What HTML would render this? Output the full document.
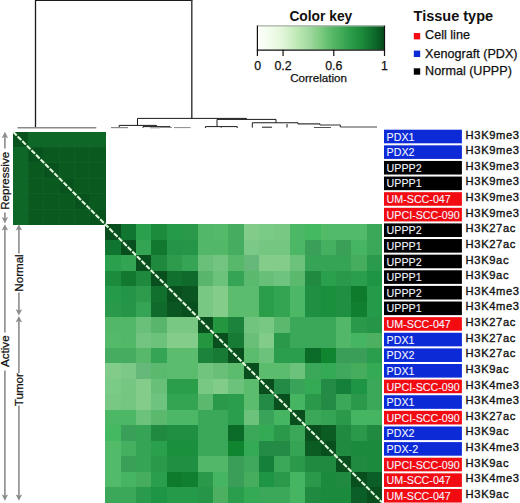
<!DOCTYPE html>
<html><head><meta charset="utf-8"><title>Heatmap</title>
<style>
html,body{margin:0;padding:0;background:#fff;}
body{width:520px;height:503px;overflow:hidden;}
svg{display:block;}
text{font-family:"Liberation Sans",sans-serif;}
.bl{font-size:10.7px;fill:#f4f6ff;stroke:#f4f6ff;stroke-width:0.1px;}
.hk{font-size:11.2px;letter-spacing:0.62px;fill:#111;stroke:#111;stroke-width:0.35px;}
.side{font-size:11.6px;fill:#111;stroke:#111;stroke-width:0.25px;}
.tk{font-size:12.4px;fill:#111;stroke:#111;stroke-width:0.25px;}
.ttl{font-size:13.8px;font-weight:bold;fill:#111;}
.lg{font-size:12.6px;fill:#111;stroke:#111;stroke-width:0.25px;}
</style></head>
<body>
<svg width="520" height="503" viewBox="0 0 520 503">
<rect width="520" height="503" fill="#fff"/>
<g shape-rendering="crispEdges">
<rect x="13.10" y="131.80" width="15.72" height="15.79" fill="#08521d"/>
<rect x="28.47" y="131.80" width="15.72" height="15.79" fill="#0e6627"/>
<rect x="43.84" y="131.80" width="15.72" height="15.79" fill="#0e6627"/>
<rect x="59.21" y="131.80" width="15.72" height="15.79" fill="#0e6627"/>
<rect x="74.58" y="131.80" width="15.72" height="15.79" fill="#0e6627"/>
<rect x="89.95" y="131.80" width="15.72" height="15.79" fill="#0e6627"/>
<rect x="13.10" y="147.24" width="15.72" height="15.79" fill="#0e6627"/>
<rect x="28.47" y="147.24" width="15.72" height="15.79" fill="#08521d"/>
<rect x="43.84" y="147.24" width="15.72" height="15.79" fill="#0a5a20"/>
<rect x="59.21" y="147.24" width="15.72" height="15.79" fill="#0a5a20"/>
<rect x="74.58" y="147.24" width="15.72" height="15.79" fill="#0a5a20"/>
<rect x="89.95" y="147.24" width="15.72" height="15.79" fill="#0a5a20"/>
<rect x="13.10" y="162.68" width="15.72" height="15.79" fill="#0e6627"/>
<rect x="28.47" y="162.68" width="15.72" height="15.79" fill="#0a5a20"/>
<rect x="43.84" y="162.68" width="15.72" height="15.79" fill="#08521d"/>
<rect x="59.21" y="162.68" width="15.72" height="15.79" fill="#0a5a20"/>
<rect x="74.58" y="162.68" width="15.72" height="15.79" fill="#0a5a20"/>
<rect x="89.95" y="162.68" width="15.72" height="15.79" fill="#0a5a20"/>
<rect x="13.10" y="178.12" width="15.72" height="15.79" fill="#0e6627"/>
<rect x="28.47" y="178.12" width="15.72" height="15.79" fill="#0a5a20"/>
<rect x="43.84" y="178.12" width="15.72" height="15.79" fill="#0a5a20"/>
<rect x="59.21" y="178.12" width="15.72" height="15.79" fill="#08521d"/>
<rect x="74.58" y="178.12" width="15.72" height="15.79" fill="#0a5a20"/>
<rect x="89.95" y="178.12" width="15.72" height="15.79" fill="#0a5a20"/>
<rect x="13.10" y="193.57" width="15.72" height="15.79" fill="#0e6627"/>
<rect x="28.47" y="193.57" width="15.72" height="15.79" fill="#0a5a20"/>
<rect x="43.84" y="193.57" width="15.72" height="15.79" fill="#0a5a20"/>
<rect x="59.21" y="193.57" width="15.72" height="15.79" fill="#0a5a20"/>
<rect x="74.58" y="193.57" width="15.72" height="15.79" fill="#08521d"/>
<rect x="89.95" y="193.57" width="15.72" height="15.79" fill="#0a5a20"/>
<rect x="13.10" y="209.01" width="15.72" height="15.79" fill="#0e6627"/>
<rect x="28.47" y="209.01" width="15.72" height="15.79" fill="#0a5a20"/>
<rect x="43.84" y="209.01" width="15.72" height="15.79" fill="#0a5a20"/>
<rect x="59.21" y="209.01" width="15.72" height="15.79" fill="#0a5a20"/>
<rect x="74.58" y="209.01" width="15.72" height="15.79" fill="#0a5a20"/>
<rect x="89.95" y="209.01" width="15.72" height="15.79" fill="#08521d"/>
<rect x="105.32" y="224.45" width="15.72" height="15.79" fill="#094e1d"/>
<rect x="120.70" y="224.45" width="15.72" height="15.79" fill="#0f7530"/>
<rect x="136.07" y="224.45" width="15.72" height="15.79" fill="#2aa04c"/>
<rect x="151.44" y="224.45" width="15.72" height="15.79" fill="#1c8b3c"/>
<rect x="166.81" y="224.45" width="15.72" height="15.79" fill="#259a48"/>
<rect x="182.18" y="224.45" width="15.72" height="15.79" fill="#2a9a4a"/>
<rect x="197.55" y="224.45" width="15.72" height="15.79" fill="#52b868"/>
<rect x="212.92" y="224.45" width="15.72" height="15.79" fill="#55b96a"/>
<rect x="228.29" y="224.45" width="15.72" height="15.79" fill="#46ac5f"/>
<rect x="243.66" y="224.45" width="15.72" height="15.79" fill="#80cc88"/>
<rect x="259.03" y="224.45" width="15.72" height="15.79" fill="#7acb85"/>
<rect x="274.40" y="224.45" width="15.72" height="15.79" fill="#78c883"/>
<rect x="289.77" y="224.45" width="15.72" height="15.79" fill="#4cb865"/>
<rect x="305.15" y="224.45" width="15.72" height="15.79" fill="#45b862"/>
<rect x="320.52" y="224.45" width="15.72" height="15.79" fill="#52bb6a"/>
<rect x="335.89" y="224.45" width="15.72" height="15.79" fill="#52bb6a"/>
<rect x="351.26" y="224.45" width="15.72" height="15.79" fill="#52bb6a"/>
<rect x="366.63" y="224.45" width="15.72" height="15.79" fill="#3aa858"/>
<rect x="105.32" y="239.89" width="15.72" height="15.79" fill="#0f7530"/>
<rect x="120.70" y="239.89" width="15.72" height="15.79" fill="#094e1d"/>
<rect x="136.07" y="239.89" width="15.72" height="15.79" fill="#33a552"/>
<rect x="151.44" y="239.89" width="15.72" height="15.79" fill="#12782f"/>
<rect x="166.81" y="239.89" width="15.72" height="15.79" fill="#249548"/>
<rect x="182.18" y="239.89" width="15.72" height="15.79" fill="#259648"/>
<rect x="197.55" y="239.89" width="15.72" height="15.79" fill="#52b868"/>
<rect x="212.92" y="239.89" width="15.72" height="15.79" fill="#52b868"/>
<rect x="228.29" y="239.89" width="15.72" height="15.79" fill="#46ac5f"/>
<rect x="243.66" y="239.89" width="15.72" height="15.79" fill="#7cc887"/>
<rect x="259.03" y="239.89" width="15.72" height="15.79" fill="#74c680"/>
<rect x="274.40" y="239.89" width="15.72" height="15.79" fill="#74c680"/>
<rect x="289.77" y="239.89" width="15.72" height="15.79" fill="#4cb865"/>
<rect x="305.15" y="239.89" width="15.72" height="15.79" fill="#3a9f58"/>
<rect x="320.52" y="239.89" width="15.72" height="15.79" fill="#45b060"/>
<rect x="335.89" y="239.89" width="15.72" height="15.79" fill="#3aa058"/>
<rect x="351.26" y="239.89" width="15.72" height="15.79" fill="#45b562"/>
<rect x="366.63" y="239.89" width="15.72" height="15.79" fill="#3aa858"/>
<rect x="105.32" y="255.33" width="15.72" height="15.79" fill="#2aa04c"/>
<rect x="120.70" y="255.33" width="15.72" height="15.79" fill="#33a552"/>
<rect x="136.07" y="255.33" width="15.72" height="15.79" fill="#094e1d"/>
<rect x="151.44" y="255.33" width="15.72" height="15.79" fill="#1f8a3d"/>
<rect x="166.81" y="255.33" width="15.72" height="15.79" fill="#2d9a4c"/>
<rect x="182.18" y="255.33" width="15.72" height="15.79" fill="#35a555"/>
<rect x="197.55" y="255.33" width="15.72" height="15.79" fill="#6ac078"/>
<rect x="212.92" y="255.33" width="15.72" height="15.79" fill="#72c480"/>
<rect x="228.29" y="255.33" width="15.72" height="15.79" fill="#56b868"/>
<rect x="243.66" y="255.33" width="15.72" height="15.79" fill="#66b87a"/>
<rect x="259.03" y="255.33" width="15.72" height="15.79" fill="#84cc8a"/>
<rect x="274.40" y="255.33" width="15.72" height="15.79" fill="#84cc8a"/>
<rect x="289.77" y="255.33" width="15.72" height="15.79" fill="#6cc27a"/>
<rect x="305.15" y="255.33" width="15.72" height="15.79" fill="#35a555"/>
<rect x="320.52" y="255.33" width="15.72" height="15.79" fill="#35a555"/>
<rect x="335.89" y="255.33" width="15.72" height="15.79" fill="#35a555"/>
<rect x="351.26" y="255.33" width="15.72" height="15.79" fill="#45ad5c"/>
<rect x="366.63" y="255.33" width="15.72" height="15.79" fill="#2a9a4c"/>
<rect x="105.32" y="270.77" width="15.72" height="15.79" fill="#1c8b3c"/>
<rect x="120.70" y="270.77" width="15.72" height="15.79" fill="#12782f"/>
<rect x="136.07" y="270.77" width="15.72" height="15.79" fill="#1f8a3d"/>
<rect x="151.44" y="270.77" width="15.72" height="15.79" fill="#094e1d"/>
<rect x="166.81" y="270.77" width="15.72" height="15.79" fill="#11702d"/>
<rect x="182.18" y="270.77" width="15.72" height="15.79" fill="#0f6a2b"/>
<rect x="197.55" y="270.77" width="15.72" height="15.79" fill="#5ab56c"/>
<rect x="212.92" y="270.77" width="15.72" height="15.79" fill="#6cc27a"/>
<rect x="228.29" y="270.77" width="15.72" height="15.79" fill="#35a555"/>
<rect x="243.66" y="270.77" width="15.72" height="15.79" fill="#5ab96c"/>
<rect x="259.03" y="270.77" width="15.72" height="15.79" fill="#68bf78"/>
<rect x="274.40" y="270.77" width="15.72" height="15.79" fill="#6ec47e"/>
<rect x="289.77" y="270.77" width="15.72" height="15.79" fill="#5ab96c"/>
<rect x="305.15" y="270.77" width="15.72" height="15.79" fill="#1f8a40"/>
<rect x="320.52" y="270.77" width="15.72" height="15.79" fill="#2aa04c"/>
<rect x="335.89" y="270.77" width="15.72" height="15.79" fill="#2a9a4a"/>
<rect x="351.26" y="270.77" width="15.72" height="15.79" fill="#2a9e4c"/>
<rect x="366.63" y="270.77" width="15.72" height="15.79" fill="#1e9445"/>
<rect x="105.32" y="286.22" width="15.72" height="15.79" fill="#259a48"/>
<rect x="120.70" y="286.22" width="15.72" height="15.79" fill="#249548"/>
<rect x="136.07" y="286.22" width="15.72" height="15.79" fill="#2d9a4c"/>
<rect x="151.44" y="286.22" width="15.72" height="15.79" fill="#11702d"/>
<rect x="166.81" y="286.22" width="15.72" height="15.79" fill="#094e1d"/>
<rect x="182.18" y="286.22" width="15.72" height="15.79" fill="#0b5520"/>
<rect x="197.55" y="286.22" width="15.72" height="15.79" fill="#78c883"/>
<rect x="212.92" y="286.22" width="15.72" height="15.79" fill="#84cc8a"/>
<rect x="228.29" y="286.22" width="15.72" height="15.79" fill="#5cbc6e"/>
<rect x="243.66" y="286.22" width="15.72" height="15.79" fill="#5cbc6e"/>
<rect x="259.03" y="286.22" width="15.72" height="15.79" fill="#2a9e48"/>
<rect x="274.40" y="286.22" width="15.72" height="15.79" fill="#33a552"/>
<rect x="289.77" y="286.22" width="15.72" height="15.79" fill="#4cb865"/>
<rect x="305.15" y="286.22" width="15.72" height="15.79" fill="#1f9042"/>
<rect x="320.52" y="286.22" width="15.72" height="15.79" fill="#1a8f3c"/>
<rect x="335.89" y="286.22" width="15.72" height="15.79" fill="#1f9042"/>
<rect x="351.26" y="286.22" width="15.72" height="15.79" fill="#0e7a2c"/>
<rect x="366.63" y="286.22" width="15.72" height="15.79" fill="#259a48"/>
<rect x="105.32" y="301.66" width="15.72" height="15.79" fill="#2a9a4a"/>
<rect x="120.70" y="301.66" width="15.72" height="15.79" fill="#259648"/>
<rect x="136.07" y="301.66" width="15.72" height="15.79" fill="#35a555"/>
<rect x="151.44" y="301.66" width="15.72" height="15.79" fill="#0f6a2b"/>
<rect x="166.81" y="301.66" width="15.72" height="15.79" fill="#0b5520"/>
<rect x="182.18" y="301.66" width="15.72" height="15.79" fill="#094e1d"/>
<rect x="197.55" y="301.66" width="15.72" height="15.79" fill="#78c883"/>
<rect x="212.92" y="301.66" width="15.72" height="15.79" fill="#84cc8a"/>
<rect x="228.29" y="301.66" width="15.72" height="15.79" fill="#5cbc6e"/>
<rect x="243.66" y="301.66" width="15.72" height="15.79" fill="#5cbc6e"/>
<rect x="259.03" y="301.66" width="15.72" height="15.79" fill="#2a9e48"/>
<rect x="274.40" y="301.66" width="15.72" height="15.79" fill="#33a552"/>
<rect x="289.77" y="301.66" width="15.72" height="15.79" fill="#4cb865"/>
<rect x="305.15" y="301.66" width="15.72" height="15.79" fill="#1f9042"/>
<rect x="320.52" y="301.66" width="15.72" height="15.79" fill="#1a8f3c"/>
<rect x="335.89" y="301.66" width="15.72" height="15.79" fill="#1f9042"/>
<rect x="351.26" y="301.66" width="15.72" height="15.79" fill="#117f30"/>
<rect x="366.63" y="301.66" width="15.72" height="15.79" fill="#259a48"/>
<rect x="105.32" y="317.10" width="15.72" height="15.79" fill="#52b868"/>
<rect x="120.70" y="317.10" width="15.72" height="15.79" fill="#52b868"/>
<rect x="136.07" y="317.10" width="15.72" height="15.79" fill="#6ac078"/>
<rect x="151.44" y="317.10" width="15.72" height="15.79" fill="#5ab56c"/>
<rect x="166.81" y="317.10" width="15.72" height="15.79" fill="#78c883"/>
<rect x="182.18" y="317.10" width="15.72" height="15.79" fill="#78c883"/>
<rect x="197.55" y="317.10" width="15.72" height="15.79" fill="#094e1d"/>
<rect x="212.92" y="317.10" width="15.72" height="15.79" fill="#23963f"/>
<rect x="228.29" y="317.10" width="15.72" height="15.79" fill="#1b833b"/>
<rect x="243.66" y="317.10" width="15.72" height="15.79" fill="#70c47e"/>
<rect x="259.03" y="317.10" width="15.72" height="15.79" fill="#78c883"/>
<rect x="274.40" y="317.10" width="15.72" height="15.79" fill="#5ab96c"/>
<rect x="289.77" y="317.10" width="15.72" height="15.79" fill="#3aa858"/>
<rect x="305.15" y="317.10" width="15.72" height="15.79" fill="#3aa858"/>
<rect x="320.52" y="317.10" width="15.72" height="15.79" fill="#3aa858"/>
<rect x="335.89" y="317.10" width="15.72" height="15.79" fill="#52b868"/>
<rect x="351.26" y="317.10" width="15.72" height="15.79" fill="#2a9a4a"/>
<rect x="366.63" y="317.10" width="15.72" height="15.79" fill="#259648"/>
<rect x="105.32" y="332.54" width="15.72" height="15.79" fill="#55b96a"/>
<rect x="120.70" y="332.54" width="15.72" height="15.79" fill="#52b868"/>
<rect x="136.07" y="332.54" width="15.72" height="15.79" fill="#72c480"/>
<rect x="151.44" y="332.54" width="15.72" height="15.79" fill="#6cc27a"/>
<rect x="166.81" y="332.54" width="15.72" height="15.79" fill="#84cc8a"/>
<rect x="182.18" y="332.54" width="15.72" height="15.79" fill="#84cc8a"/>
<rect x="197.55" y="332.54" width="15.72" height="15.79" fill="#23963f"/>
<rect x="212.92" y="332.54" width="15.72" height="15.79" fill="#094e1d"/>
<rect x="228.29" y="332.54" width="15.72" height="15.79" fill="#177a35"/>
<rect x="243.66" y="332.54" width="15.72" height="15.79" fill="#6abf78"/>
<rect x="259.03" y="332.54" width="15.72" height="15.79" fill="#80cc88"/>
<rect x="274.40" y="332.54" width="15.72" height="15.79" fill="#2a9a4a"/>
<rect x="289.77" y="332.54" width="15.72" height="15.79" fill="#3aa858"/>
<rect x="305.15" y="332.54" width="15.72" height="15.79" fill="#3aa858"/>
<rect x="320.52" y="332.54" width="15.72" height="15.79" fill="#3aa858"/>
<rect x="335.89" y="332.54" width="15.72" height="15.79" fill="#52b868"/>
<rect x="351.26" y="332.54" width="15.72" height="15.79" fill="#45b562"/>
<rect x="366.63" y="332.54" width="15.72" height="15.79" fill="#4cb060"/>
<rect x="105.32" y="347.98" width="15.72" height="15.79" fill="#46ac5f"/>
<rect x="120.70" y="347.98" width="15.72" height="15.79" fill="#46ac5f"/>
<rect x="136.07" y="347.98" width="15.72" height="15.79" fill="#56b868"/>
<rect x="151.44" y="347.98" width="15.72" height="15.79" fill="#35a555"/>
<rect x="166.81" y="347.98" width="15.72" height="15.79" fill="#5cbc6e"/>
<rect x="182.18" y="347.98" width="15.72" height="15.79" fill="#5cbc6e"/>
<rect x="197.55" y="347.98" width="15.72" height="15.79" fill="#1b833b"/>
<rect x="212.92" y="347.98" width="15.72" height="15.79" fill="#177a35"/>
<rect x="228.29" y="347.98" width="15.72" height="15.79" fill="#094e1d"/>
<rect x="243.66" y="347.98" width="15.72" height="15.79" fill="#5cbc6e"/>
<rect x="259.03" y="347.98" width="15.72" height="15.79" fill="#6cc27a"/>
<rect x="274.40" y="347.98" width="15.72" height="15.79" fill="#2a9e4c"/>
<rect x="289.77" y="347.98" width="15.72" height="15.79" fill="#2a9e4c"/>
<rect x="305.15" y="347.98" width="15.72" height="15.79" fill="#0b6c29"/>
<rect x="320.52" y="347.98" width="15.72" height="15.79" fill="#108530"/>
<rect x="335.89" y="347.98" width="15.72" height="15.79" fill="#3a9e58"/>
<rect x="351.26" y="347.98" width="15.72" height="15.79" fill="#3a9e58"/>
<rect x="366.63" y="347.98" width="15.72" height="15.79" fill="#2a9e4c"/>
<rect x="105.32" y="363.42" width="15.72" height="15.79" fill="#80cc88"/>
<rect x="120.70" y="363.42" width="15.72" height="15.79" fill="#7cc887"/>
<rect x="136.07" y="363.42" width="15.72" height="15.79" fill="#66b87a"/>
<rect x="151.44" y="363.42" width="15.72" height="15.79" fill="#5ab96c"/>
<rect x="166.81" y="363.42" width="15.72" height="15.79" fill="#5cbc6e"/>
<rect x="182.18" y="363.42" width="15.72" height="15.79" fill="#5cbc6e"/>
<rect x="197.55" y="363.42" width="15.72" height="15.79" fill="#70c47e"/>
<rect x="212.92" y="363.42" width="15.72" height="15.79" fill="#6abf78"/>
<rect x="228.29" y="363.42" width="15.72" height="15.79" fill="#5cbc6e"/>
<rect x="243.66" y="363.42" width="15.72" height="15.79" fill="#094e1d"/>
<rect x="259.03" y="363.42" width="15.72" height="15.79" fill="#5cbc6e"/>
<rect x="274.40" y="363.42" width="15.72" height="15.79" fill="#5cbc6e"/>
<rect x="289.77" y="363.42" width="15.72" height="15.79" fill="#6cc27a"/>
<rect x="305.15" y="363.42" width="15.72" height="15.79" fill="#3aa858"/>
<rect x="320.52" y="363.42" width="15.72" height="15.79" fill="#35aa55"/>
<rect x="335.89" y="363.42" width="15.72" height="15.79" fill="#40a85c"/>
<rect x="351.26" y="363.42" width="15.72" height="15.79" fill="#45ad5c"/>
<rect x="366.63" y="363.42" width="15.72" height="15.79" fill="#35aa55"/>
<rect x="105.32" y="378.87" width="15.72" height="15.79" fill="#7acb85"/>
<rect x="120.70" y="378.87" width="15.72" height="15.79" fill="#74c680"/>
<rect x="136.07" y="378.87" width="15.72" height="15.79" fill="#84cc8a"/>
<rect x="151.44" y="378.87" width="15.72" height="15.79" fill="#68bf78"/>
<rect x="166.81" y="378.87" width="15.72" height="15.79" fill="#2a9e48"/>
<rect x="182.18" y="378.87" width="15.72" height="15.79" fill="#2a9e48"/>
<rect x="197.55" y="378.87" width="15.72" height="15.79" fill="#78c883"/>
<rect x="212.92" y="378.87" width="15.72" height="15.79" fill="#80cc88"/>
<rect x="228.29" y="378.87" width="15.72" height="15.79" fill="#6cc27a"/>
<rect x="243.66" y="378.87" width="15.72" height="15.79" fill="#5cbc6e"/>
<rect x="259.03" y="378.87" width="15.72" height="15.79" fill="#094e1d"/>
<rect x="274.40" y="378.87" width="15.72" height="15.79" fill="#238b45"/>
<rect x="289.77" y="378.87" width="15.72" height="15.79" fill="#3aa35a"/>
<rect x="305.15" y="378.87" width="15.72" height="15.79" fill="#35aa55"/>
<rect x="320.52" y="378.87" width="15.72" height="15.79" fill="#238b45"/>
<rect x="335.89" y="378.87" width="15.72" height="15.79" fill="#14803a"/>
<rect x="351.26" y="378.87" width="15.72" height="15.79" fill="#1e9445"/>
<rect x="366.63" y="378.87" width="15.72" height="15.79" fill="#3aa858"/>
<rect x="105.32" y="394.31" width="15.72" height="15.79" fill="#78c883"/>
<rect x="120.70" y="394.31" width="15.72" height="15.79" fill="#74c680"/>
<rect x="136.07" y="394.31" width="15.72" height="15.79" fill="#84cc8a"/>
<rect x="151.44" y="394.31" width="15.72" height="15.79" fill="#6ec47e"/>
<rect x="166.81" y="394.31" width="15.72" height="15.79" fill="#33a552"/>
<rect x="182.18" y="394.31" width="15.72" height="15.79" fill="#33a552"/>
<rect x="197.55" y="394.31" width="15.72" height="15.79" fill="#5ab96c"/>
<rect x="212.92" y="394.31" width="15.72" height="15.79" fill="#2a9a4a"/>
<rect x="228.29" y="394.31" width="15.72" height="15.79" fill="#2a9e4c"/>
<rect x="243.66" y="394.31" width="15.72" height="15.79" fill="#5cbc6e"/>
<rect x="259.03" y="394.31" width="15.72" height="15.79" fill="#238b45"/>
<rect x="274.40" y="394.31" width="15.72" height="15.79" fill="#094e1d"/>
<rect x="289.77" y="394.31" width="15.72" height="15.79" fill="#45b562"/>
<rect x="305.15" y="394.31" width="15.72" height="15.79" fill="#2a9a4a"/>
<rect x="320.52" y="394.31" width="15.72" height="15.79" fill="#238b45"/>
<rect x="335.89" y="394.31" width="15.72" height="15.79" fill="#3aa858"/>
<rect x="351.26" y="394.31" width="15.72" height="15.79" fill="#2a9a4a"/>
<rect x="366.63" y="394.31" width="15.72" height="15.79" fill="#3aa858"/>
<rect x="105.32" y="409.75" width="15.72" height="15.79" fill="#4cb865"/>
<rect x="120.70" y="409.75" width="15.72" height="15.79" fill="#4cb865"/>
<rect x="136.07" y="409.75" width="15.72" height="15.79" fill="#6cc27a"/>
<rect x="151.44" y="409.75" width="15.72" height="15.79" fill="#5ab96c"/>
<rect x="166.81" y="409.75" width="15.72" height="15.79" fill="#4cb865"/>
<rect x="182.18" y="409.75" width="15.72" height="15.79" fill="#4cb865"/>
<rect x="197.55" y="409.75" width="15.72" height="15.79" fill="#3aa858"/>
<rect x="212.92" y="409.75" width="15.72" height="15.79" fill="#3aa858"/>
<rect x="228.29" y="409.75" width="15.72" height="15.79" fill="#2a9e4c"/>
<rect x="243.66" y="409.75" width="15.72" height="15.79" fill="#6cc27a"/>
<rect x="259.03" y="409.75" width="15.72" height="15.79" fill="#3aa35a"/>
<rect x="274.40" y="409.75" width="15.72" height="15.79" fill="#45b562"/>
<rect x="289.77" y="409.75" width="15.72" height="15.79" fill="#094e1d"/>
<rect x="305.15" y="409.75" width="15.72" height="15.79" fill="#3aa858"/>
<rect x="320.52" y="409.75" width="15.72" height="15.79" fill="#35a555"/>
<rect x="335.89" y="409.75" width="15.72" height="15.79" fill="#2a9a4a"/>
<rect x="351.26" y="409.75" width="15.72" height="15.79" fill="#45b562"/>
<rect x="366.63" y="409.75" width="15.72" height="15.79" fill="#45b562"/>
<rect x="105.32" y="425.19" width="15.72" height="15.79" fill="#45b862"/>
<rect x="120.70" y="425.19" width="15.72" height="15.79" fill="#3a9f58"/>
<rect x="136.07" y="425.19" width="15.72" height="15.79" fill="#35a555"/>
<rect x="151.44" y="425.19" width="15.72" height="15.79" fill="#1f8a40"/>
<rect x="166.81" y="425.19" width="15.72" height="15.79" fill="#1f9042"/>
<rect x="182.18" y="425.19" width="15.72" height="15.79" fill="#1f9042"/>
<rect x="197.55" y="425.19" width="15.72" height="15.79" fill="#3aa858"/>
<rect x="212.92" y="425.19" width="15.72" height="15.79" fill="#3aa858"/>
<rect x="228.29" y="425.19" width="15.72" height="15.79" fill="#0b6c29"/>
<rect x="243.66" y="425.19" width="15.72" height="15.79" fill="#3aa858"/>
<rect x="259.03" y="425.19" width="15.72" height="15.79" fill="#35aa55"/>
<rect x="274.40" y="425.19" width="15.72" height="15.79" fill="#2a9a4a"/>
<rect x="289.77" y="425.19" width="15.72" height="15.79" fill="#3aa858"/>
<rect x="305.15" y="425.19" width="15.72" height="15.79" fill="#094e1d"/>
<rect x="320.52" y="425.19" width="15.72" height="15.79" fill="#0a5c23"/>
<rect x="335.89" y="425.19" width="15.72" height="15.79" fill="#1f8a40"/>
<rect x="351.26" y="425.19" width="15.72" height="15.79" fill="#2a9a4a"/>
<rect x="366.63" y="425.19" width="15.72" height="15.79" fill="#1f8a40"/>
<rect x="105.32" y="440.63" width="15.72" height="15.79" fill="#52bb6a"/>
<rect x="120.70" y="440.63" width="15.72" height="15.79" fill="#45b060"/>
<rect x="136.07" y="440.63" width="15.72" height="15.79" fill="#35a555"/>
<rect x="151.44" y="440.63" width="15.72" height="15.79" fill="#2aa04c"/>
<rect x="166.81" y="440.63" width="15.72" height="15.79" fill="#1a8f3c"/>
<rect x="182.18" y="440.63" width="15.72" height="15.79" fill="#1a8f3c"/>
<rect x="197.55" y="440.63" width="15.72" height="15.79" fill="#3aa858"/>
<rect x="212.92" y="440.63" width="15.72" height="15.79" fill="#3aa858"/>
<rect x="228.29" y="440.63" width="15.72" height="15.79" fill="#108530"/>
<rect x="243.66" y="440.63" width="15.72" height="15.79" fill="#35aa55"/>
<rect x="259.03" y="440.63" width="15.72" height="15.79" fill="#238b45"/>
<rect x="274.40" y="440.63" width="15.72" height="15.79" fill="#238b45"/>
<rect x="289.77" y="440.63" width="15.72" height="15.79" fill="#35a555"/>
<rect x="305.15" y="440.63" width="15.72" height="15.79" fill="#0a5c23"/>
<rect x="320.52" y="440.63" width="15.72" height="15.79" fill="#094e1d"/>
<rect x="335.89" y="440.63" width="15.72" height="15.79" fill="#1f8a40"/>
<rect x="351.26" y="440.63" width="15.72" height="15.79" fill="#1a8a3c"/>
<rect x="366.63" y="440.63" width="15.72" height="15.79" fill="#1a8a3c"/>
<rect x="105.32" y="456.07" width="15.72" height="15.79" fill="#52bb6a"/>
<rect x="120.70" y="456.07" width="15.72" height="15.79" fill="#3aa058"/>
<rect x="136.07" y="456.07" width="15.72" height="15.79" fill="#35a555"/>
<rect x="151.44" y="456.07" width="15.72" height="15.79" fill="#2a9a4a"/>
<rect x="166.81" y="456.07" width="15.72" height="15.79" fill="#1f9042"/>
<rect x="182.18" y="456.07" width="15.72" height="15.79" fill="#1f9042"/>
<rect x="197.55" y="456.07" width="15.72" height="15.79" fill="#52b868"/>
<rect x="212.92" y="456.07" width="15.72" height="15.79" fill="#52b868"/>
<rect x="228.29" y="456.07" width="15.72" height="15.79" fill="#3a9e58"/>
<rect x="243.66" y="456.07" width="15.72" height="15.79" fill="#40a85c"/>
<rect x="259.03" y="456.07" width="15.72" height="15.79" fill="#14803a"/>
<rect x="274.40" y="456.07" width="15.72" height="15.79" fill="#3aa858"/>
<rect x="289.77" y="456.07" width="15.72" height="15.79" fill="#2a9a4a"/>
<rect x="305.15" y="456.07" width="15.72" height="15.79" fill="#1f8a40"/>
<rect x="320.52" y="456.07" width="15.72" height="15.79" fill="#1f8a40"/>
<rect x="335.89" y="456.07" width="15.72" height="15.79" fill="#094e1d"/>
<rect x="351.26" y="456.07" width="15.72" height="15.79" fill="#1f8a40"/>
<rect x="366.63" y="456.07" width="15.72" height="15.79" fill="#1a8a3c"/>
<rect x="105.32" y="471.52" width="15.72" height="15.79" fill="#52bb6a"/>
<rect x="120.70" y="471.52" width="15.72" height="15.79" fill="#45b562"/>
<rect x="136.07" y="471.52" width="15.72" height="15.79" fill="#45ad5c"/>
<rect x="151.44" y="471.52" width="15.72" height="15.79" fill="#2a9e4c"/>
<rect x="166.81" y="471.52" width="15.72" height="15.79" fill="#0e7a2c"/>
<rect x="182.18" y="471.52" width="15.72" height="15.79" fill="#117f30"/>
<rect x="197.55" y="471.52" width="15.72" height="15.79" fill="#2a9a4a"/>
<rect x="212.92" y="471.52" width="15.72" height="15.79" fill="#45b562"/>
<rect x="228.29" y="471.52" width="15.72" height="15.79" fill="#3a9e58"/>
<rect x="243.66" y="471.52" width="15.72" height="15.79" fill="#45ad5c"/>
<rect x="259.03" y="471.52" width="15.72" height="15.79" fill="#1e9445"/>
<rect x="274.40" y="471.52" width="15.72" height="15.79" fill="#2a9a4a"/>
<rect x="289.77" y="471.52" width="15.72" height="15.79" fill="#45b562"/>
<rect x="305.15" y="471.52" width="15.72" height="15.79" fill="#2a9a4a"/>
<rect x="320.52" y="471.52" width="15.72" height="15.79" fill="#1a8a3c"/>
<rect x="335.89" y="471.52" width="15.72" height="15.79" fill="#1f8a40"/>
<rect x="351.26" y="471.52" width="15.72" height="15.79" fill="#094e1d"/>
<rect x="366.63" y="471.52" width="15.72" height="15.79" fill="#0b5e25"/>
<rect x="105.32" y="486.96" width="15.72" height="15.79" fill="#3aa858"/>
<rect x="120.70" y="486.96" width="15.72" height="15.79" fill="#3aa858"/>
<rect x="136.07" y="486.96" width="15.72" height="15.79" fill="#2a9a4c"/>
<rect x="151.44" y="486.96" width="15.72" height="15.79" fill="#1e9445"/>
<rect x="166.81" y="486.96" width="15.72" height="15.79" fill="#259a48"/>
<rect x="182.18" y="486.96" width="15.72" height="15.79" fill="#259a48"/>
<rect x="197.55" y="486.96" width="15.72" height="15.79" fill="#259648"/>
<rect x="212.92" y="486.96" width="15.72" height="15.79" fill="#4cb060"/>
<rect x="228.29" y="486.96" width="15.72" height="15.79" fill="#2a9e4c"/>
<rect x="243.66" y="486.96" width="15.72" height="15.79" fill="#35aa55"/>
<rect x="259.03" y="486.96" width="15.72" height="15.79" fill="#3aa858"/>
<rect x="274.40" y="486.96" width="15.72" height="15.79" fill="#3aa858"/>
<rect x="289.77" y="486.96" width="15.72" height="15.79" fill="#45b562"/>
<rect x="305.15" y="486.96" width="15.72" height="15.79" fill="#1f8a40"/>
<rect x="320.52" y="486.96" width="15.72" height="15.79" fill="#1a8a3c"/>
<rect x="335.89" y="486.96" width="15.72" height="15.79" fill="#1a8a3c"/>
<rect x="351.26" y="486.96" width="15.72" height="15.79" fill="#0b5e25"/>
<rect x="366.63" y="486.96" width="15.72" height="15.79" fill="#094e1d"/>
<rect x="27.97" y="131.80" width="1" height="92.65" fill="#1b6a32" opacity="0.3"/>
<rect x="13.10" y="146.74" width="92.22" height="1" fill="#1b6a32" opacity="0.3"/>
<rect x="43.34" y="131.80" width="1" height="92.65" fill="#1b6a32" opacity="0.3"/>
<rect x="13.10" y="162.18" width="92.22" height="1" fill="#1b6a32" opacity="0.3"/>
<rect x="58.71" y="131.80" width="1" height="92.65" fill="#1b6a32" opacity="0.3"/>
<rect x="13.10" y="177.62" width="92.22" height="1" fill="#1b6a32" opacity="0.3"/>
<rect x="74.08" y="131.80" width="1" height="92.65" fill="#1b6a32" opacity="0.3"/>
<rect x="13.10" y="193.07" width="92.22" height="1" fill="#1b6a32" opacity="0.3"/>
<rect x="89.45" y="131.80" width="1" height="92.65" fill="#1b6a32" opacity="0.3"/>
<rect x="13.10" y="208.51" width="92.22" height="1" fill="#1b6a32" opacity="0.3"/>
</g>
<line x1="13.1" y1="131.8" x2="382.0" y2="502.4" stroke="#e2f9dc" stroke-width="2.1" stroke-dasharray="5.1 1.4"/>
<g>
<line x1="35.5" y1="0.5" x2="192.3" y2="0.5" stroke="#1a1a1a" stroke-width="1.2"/>
<line x1="35.5" y1="0.0" x2="35.5" y2="127.7" stroke="#1a1a1a" stroke-width="1.3"/>
<line x1="191.8" y1="0.0" x2="191.8" y2="118.4" stroke="#333" stroke-width="1.4"/>
<line x1="17.5" y1="127.8" x2="96.3" y2="127.8" stroke="#8a8a8a" stroke-width="1.6"/>
<line x1="137.5" y1="118.4" x2="246.4" y2="118.4" stroke="#1a1a1a" stroke-width="1.0"/>
<line x1="137.5" y1="118.4" x2="137.5" y2="125.4" stroke="#1a1a1a" stroke-width="1.0"/>
<line x1="119.2" y1="125.4" x2="156.5" y2="125.4" stroke="#1a1a1a" stroke-width="1.0"/>
<line x1="119.2" y1="125.4" x2="119.2" y2="127.6" stroke="#1a1a1a" stroke-width="1.0"/>
<line x1="111.0" y1="127.6" x2="128.0" y2="127.6" stroke="#8a8a8a" stroke-width="1.2"/>
<line x1="156.5" y1="125.4" x2="156.5" y2="126.4" stroke="#1a1a1a" stroke-width="1.0"/>
<line x1="143.0" y1="126.6" x2="170.0" y2="126.6" stroke="#1a1a1a" stroke-width="1.0"/>
<line x1="143.0" y1="126.6" x2="143.0" y2="127.8" stroke="#1a1a1a" stroke-width="1.0"/>
<line x1="150.0" y1="127.8" x2="160.0" y2="127.8" stroke="#8a8a8a" stroke-width="1.0"/>
<line x1="170.0" y1="126.6" x2="170.0" y2="127.8" stroke="#1a1a1a" stroke-width="1.0"/>
<line x1="160.0" y1="127.4" x2="172.0" y2="127.4" stroke="#8a8a8a" stroke-width="1.0"/>
<line x1="174.0" y1="127.6" x2="190.5" y2="127.6" stroke="#8a8a8a" stroke-width="1.0"/>
<line x1="246.4" y1="118.4" x2="246.4" y2="119.4" stroke="#1a1a1a" stroke-width="1.0"/>
<line x1="217.0" y1="119.4" x2="276.0" y2="119.4" stroke="#1a1a1a" stroke-width="1.0"/>
<line x1="217.0" y1="119.4" x2="217.0" y2="126.6" stroke="#1a1a1a" stroke-width="1.0"/>
<line x1="205.4" y1="126.6" x2="237.2" y2="126.6" stroke="#1a1a1a" stroke-width="1.0"/>
<line x1="205.4" y1="126.6" x2="205.4" y2="128.0" stroke="#1a1a1a" stroke-width="1.0"/>
<line x1="237.2" y1="126.6" x2="237.2" y2="128.0" stroke="#1a1a1a" stroke-width="1.0"/>
<line x1="221.2" y1="126.6" x2="221.2" y2="127.6" stroke="#1a1a1a" stroke-width="1.0"/>
<line x1="276.0" y1="119.4" x2="276.0" y2="122.8" stroke="#1a1a1a" stroke-width="1.0"/>
<line x1="252.3" y1="122.8" x2="298.0" y2="122.8" stroke="#1a1a1a" stroke-width="1.1"/>
<line x1="252.3" y1="122.8" x2="252.3" y2="127.6" stroke="#1a1a1a" stroke-width="1.0"/>
<line x1="298.0" y1="122.8" x2="298.0" y2="124.0" stroke="#1a1a1a" stroke-width="1.0"/>
<line x1="262.0" y1="127.2" x2="272.0" y2="127.2" stroke="#1a1a1a" stroke-width="1.0"/>
<line x1="298.0" y1="123.9" x2="320.0" y2="123.9" stroke="#1a1a1a" stroke-width="1.1"/>
<line x1="320.0" y1="123.9" x2="320.0" y2="125.0" stroke="#1a1a1a" stroke-width="1.0"/>
<line x1="320.0" y1="125.0" x2="340.3" y2="125.0" stroke="#555" stroke-width="1.2"/>
<line x1="340.3" y1="125.0" x2="340.3" y2="127.0" stroke="#1a1a1a" stroke-width="1.0"/>
<line x1="340.3" y1="127.0" x2="377.0" y2="127.0" stroke="#444" stroke-width="1.0"/>
<line x1="314.0" y1="127.5" x2="331.0" y2="127.5" stroke="#555" stroke-width="1.0"/>
<line x1="287.0" y1="127.5" x2="287.0" y2="124.0" stroke="#1a1a1a" stroke-width="1.0"/>
</g>
<rect x="384" y="129.70" width="77.9" height="13.6" fill="#0c2ad6"/>
<text x="386.6" y="140.60" class="bl">PDX1</text>
<text x="465.6" y="138.60" class="hk">H3K9me3</text>
<rect x="384" y="145.32" width="77.9" height="13.6" fill="#0c2ad6"/>
<text x="386.6" y="156.22" class="bl">PDX2</text>
<text x="465.6" y="154.22" class="hk">H3K9me3</text>
<rect x="384" y="160.94" width="77.9" height="13.6" fill="#000000"/>
<text x="386.6" y="171.84" class="bl">UPPP2</text>
<text x="465.6" y="169.84" class="hk">H3K9me3</text>
<rect x="384" y="176.56" width="77.9" height="13.6" fill="#000000"/>
<text x="386.6" y="187.46" class="bl">UPPP1</text>
<text x="465.6" y="185.46" class="hk">H3K9me3</text>
<rect x="384" y="192.18" width="77.9" height="13.6" fill="#f20c12"/>
<text x="386.6" y="203.08" class="bl">UM-SCC-047</text>
<text x="465.6" y="201.08" class="hk">H3K9me3</text>
<rect x="384" y="207.80" width="77.9" height="13.6" fill="#f20c12"/>
<text x="386.6" y="218.70" class="bl">UPCI-SCC-090</text>
<text x="465.6" y="216.70" class="hk">H3K9me3</text>
<rect x="384" y="223.42" width="77.9" height="13.6" fill="#000000"/>
<text x="386.6" y="234.32" class="bl">UPPP2</text>
<text x="465.6" y="232.32" class="hk">H3K27ac</text>
<rect x="384" y="239.04" width="77.9" height="13.6" fill="#000000"/>
<text x="386.6" y="249.94" class="bl">UPPP1</text>
<text x="465.6" y="247.94" class="hk">H3K27ac</text>
<rect x="384" y="254.66" width="77.9" height="13.6" fill="#000000"/>
<text x="386.6" y="265.56" class="bl">UPPP2</text>
<text x="465.6" y="263.56" class="hk">H3K9ac</text>
<rect x="384" y="270.28" width="77.9" height="13.6" fill="#000000"/>
<text x="386.6" y="281.18" class="bl">UPPP1</text>
<text x="465.6" y="279.18" class="hk">H3K9ac</text>
<rect x="384" y="285.90" width="77.9" height="13.6" fill="#000000"/>
<text x="386.6" y="296.80" class="bl">UPPP2</text>
<text x="465.6" y="294.80" class="hk">H3K4me3</text>
<rect x="384" y="301.52" width="77.9" height="13.6" fill="#000000"/>
<text x="386.6" y="312.42" class="bl">UPPP1</text>
<text x="465.6" y="310.42" class="hk">H3K4me3</text>
<rect x="384" y="317.14" width="77.9" height="13.6" fill="#f20c12"/>
<text x="386.6" y="328.04" class="bl">UM-SCC-047</text>
<text x="465.6" y="326.04" class="hk">H3K27ac</text>
<rect x="384" y="332.76" width="77.9" height="13.6" fill="#0c2ad6"/>
<text x="386.6" y="343.66" class="bl">PDX1</text>
<text x="465.6" y="341.66" class="hk">H3K27ac</text>
<rect x="384" y="348.38" width="77.9" height="13.6" fill="#0c2ad6"/>
<text x="386.6" y="359.28" class="bl">PDX2</text>
<text x="465.6" y="357.28" class="hk">H3K27ac</text>
<rect x="384" y="364.00" width="77.9" height="13.6" fill="#0c2ad6"/>
<text x="386.6" y="374.90" class="bl">PDX1</text>
<text x="465.6" y="372.90" class="hk">H3K9ac</text>
<rect x="384" y="379.62" width="77.9" height="13.6" fill="#f20c12"/>
<text x="386.6" y="390.52" class="bl">UPCI-SCC-090</text>
<text x="465.6" y="388.52" class="hk">H3K4me3</text>
<rect x="384" y="395.24" width="77.9" height="13.6" fill="#0c2ad6"/>
<text x="386.6" y="406.14" class="bl">PDX1</text>
<text x="465.6" y="404.14" class="hk">H3K4me3</text>
<rect x="384" y="410.86" width="77.9" height="13.6" fill="#f20c12"/>
<text x="386.6" y="421.76" class="bl">UPCI-SCC-090</text>
<text x="465.6" y="419.76" class="hk">H3K27ac</text>
<rect x="384" y="426.48" width="77.9" height="13.6" fill="#0c2ad6"/>
<text x="386.6" y="437.38" class="bl">PDX2</text>
<text x="465.6" y="435.38" class="hk">H3K9ac</text>
<rect x="384" y="442.10" width="77.9" height="13.6" fill="#0c2ad6"/>
<text x="386.6" y="453.00" class="bl">PDX-2</text>
<text x="465.6" y="451.00" class="hk">H3K4me3</text>
<rect x="384" y="457.72" width="77.9" height="13.6" fill="#f20c12"/>
<text x="386.6" y="468.62" class="bl">UPCI-SCC-090</text>
<text x="465.6" y="466.62" class="hk">H3K9ac</text>
<rect x="384" y="473.34" width="77.9" height="13.6" fill="#f20c12"/>
<text x="386.6" y="484.24" class="bl">UM-SCC-047</text>
<text x="465.6" y="482.24" class="hk">H3K4me3</text>
<rect x="384" y="488.96" width="77.9" height="13.6" fill="#f20c12"/>
<text x="386.6" y="499.86" class="bl">UM-SCC-047</text>
<text x="465.6" y="497.86" class="hk">H3K9ac</text>
<path d="M4.9 131.8 L8.100000000000001 138.20000000000002 L4.9 136.8 L1.7000000000000002 138.20000000000002 Z" fill="#8c8c8c"/>
<line x1="4.9" y1="136" x2="4.9" y2="148.5" stroke="#8c8c8c" stroke-width="1.6"/>
<line x1="4.9" y1="212.5" x2="4.9" y2="219" stroke="#8c8c8c" stroke-width="1.6"/>
<path d="M4.9 223.4 L8.100000000000001 217.0 L4.9 218.4 L1.7000000000000002 217.0 Z" fill="#8c8c8c"/>
<path d="M4.9 224.2 L8.100000000000001 230.6 L4.9 229.2 L1.7000000000000002 230.6 Z" fill="#8c8c8c"/>
<line x1="4.9" y1="228" x2="4.9" y2="332.6" stroke="#8c8c8c" stroke-width="1.6"/>
<line x1="4.9" y1="370.6" x2="4.9" y2="497" stroke="#8c8c8c" stroke-width="1.6"/>
<path d="M4.9 500.8 L8.100000000000001 494.40000000000003 L4.9 495.8 L1.7000000000000002 494.40000000000003 Z" fill="#8c8c8c"/>
<path d="M18.9 224.2 L22.099999999999998 230.6 L18.9 229.2 L15.7 230.6 Z" fill="#8c8c8c"/>
<line x1="18.9" y1="228" x2="18.9" y2="253.5" stroke="#8c8c8c" stroke-width="1.6"/>
<line x1="18.9" y1="292.5" x2="18.9" y2="311" stroke="#8c8c8c" stroke-width="1.6"/>
<path d="M18.9 315.6 L22.099999999999998 309.20000000000005 L18.9 310.6 L15.7 309.20000000000005 Z" fill="#8c8c8c"/>
<path d="M18.9 315.9 L22.099999999999998 322.29999999999995 L18.9 320.9 L15.7 322.29999999999995 Z" fill="#8c8c8c"/>
<line x1="18.9" y1="320" x2="18.9" y2="373.1" stroke="#8c8c8c" stroke-width="1.6"/>
<line x1="18.9" y1="405.5" x2="18.9" y2="497" stroke="#8c8c8c" stroke-width="1.6"/>
<path d="M18.9 500.8 L22.099999999999998 494.40000000000003 L18.9 495.8 L15.7 494.40000000000003 Z" fill="#8c8c8c"/>
<text x="9.0" y="180.8" class="side" text-anchor="middle" transform="rotate(-90 9.0 180.8)">Repressive</text>
<text x="23.0" y="273.0" class="side" text-anchor="middle" transform="rotate(-90 23.0 273.0)">Normal</text>
<text x="9.0" y="351.2" class="side" text-anchor="middle" transform="rotate(-90 9.0 351.2)">Active</text>
<text x="23.0" y="389.6" class="side" text-anchor="middle" transform="rotate(-90 23.0 389.6)">Tumor</text>
<text x="289.4" y="20.8" class="ttl">Color key</text>
<defs><linearGradient id="kg" x1="0" x2="1" y1="0" y2="0"><stop offset="0.000" stop-color="#fdfffb"/><stop offset="0.060" stop-color="#f6fdf2"/><stop offset="0.140" stop-color="#ebfae3"/><stop offset="0.200" stop-color="#e0f5d8"/><stop offset="0.260" stop-color="#cdeec5"/><stop offset="0.330" stop-color="#b8e6b0"/><stop offset="0.410" stop-color="#a0d8a0"/><stop offset="0.490" stop-color="#80cc82"/><stop offset="0.570" stop-color="#5dbc6b"/><stop offset="0.650" stop-color="#45ad5b"/><stop offset="0.730" stop-color="#2c9d49"/><stop offset="0.820" stop-color="#1c8a3b"/><stop offset="0.910" stop-color="#0e6e2c"/><stop offset="1.000" stop-color="#06491c"/></linearGradient></defs>
<rect x="257.7" y="25.6" width="126.80" height="24.20" fill="url(#kg)"/>
<line x1="257.7" y1="25.900000000000002" x2="384.5" y2="25.900000000000002" stroke="#a8b0a8" stroke-width="1.3"/>
<line x1="257.4" y1="25.6" x2="257.4" y2="56" stroke="#111" stroke-width="1.2"/>
<line x1="384.5" y1="25.6" x2="384.5" y2="56" stroke="#111" stroke-width="1.2"/>
<line x1="256.8" y1="50.099999999999994" x2="385.1" y2="50.099999999999994" stroke="#111" stroke-width="1.2"/>
<line x1="283.06" y1="49.8" x2="283.06" y2="56" stroke="#111" stroke-width="1.2"/>
<line x1="333.78" y1="49.8" x2="333.78" y2="56" stroke="#111" stroke-width="1.2"/>
<text x="257.70" y="70.4" class="tk" text-anchor="middle">0</text>
<text x="283.06" y="70.4" class="tk" text-anchor="middle">0.2</text>
<text x="333.78" y="70.4" class="tk" text-anchor="middle">0.6</text>
<text x="384.50" y="70.4" class="tk" text-anchor="middle">1</text>

<text x="290.2" y="81.9" class="lg" style="font-size:11.6px">Correlation</text>
<text x="413.6" y="21.2" class="ttl" style="font-size:14.5px">Tissue type</text>
<rect x="413.8" y="33" width="6.4" height="6.4" fill="#f20c12"/>
<text x="425.1" y="39.4" class="lg">Cell line</text>
<rect x="413.8" y="50.6" width="6.4" height="6.4" fill="#0c2ad6"/>
<text x="425.1" y="57.6" class="lg">Xenograft (PDX)</text>
<rect x="413.8" y="68.3" width="6.4" height="6.4" fill="#000000"/>
<text x="425.1" y="74.8" class="lg">Normal (UPPP)</text>
</svg>
</body></html>
